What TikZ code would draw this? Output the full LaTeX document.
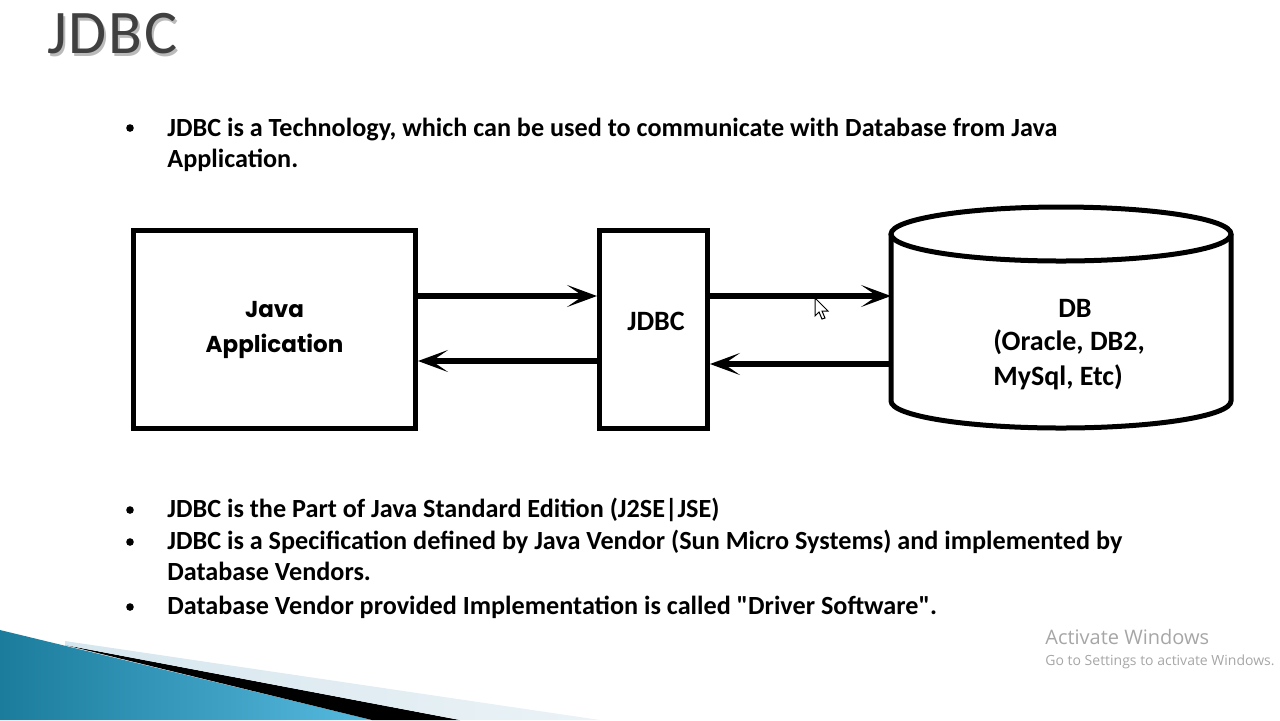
\documentclass[tikz,border=0pt]{standalone}
\usepackage{fontspec}
\setmainfont{Carlito}[Ligatures=TeXOff]
\newfontfamily\geofont{Poppins}
\newfontfamily\winfont{Open Sans}
\usetikzlibrary{arrows.meta}
\definecolor{titlegray}{HTML}{404040}
\definecolor{shadowgray}{HTML}{BBBBBB}
\definecolor{tealdark}{HTML}{1B7C9C}
\definecolor{teallight}{HTML}{56BADF}
\definecolor{bandgray}{HTML}{D6E6EE}
\definecolor{wmgray}{HTML}{A6A6A6}

\begin{document}
\begin{tikzpicture}[x=0.5pt, y=-0.5pt,
    box/.style={rectangle, draw, line width=2.5pt, inner sep=0pt},
    arrow/.style={-{Stealth[length=15pt, width=11pt, inset=8pt]}, line width=3pt},
    bul/.style={circle, fill, inner sep=0pt, minimum size=3.8pt},
    txt/.style={anchor=base west, inner sep=0pt, font=\fontsize{13.1}{15.75}\selectfont\bfseries},
    lbl/.style={inner sep=0pt, font=\fontsize{14}{17.5}\selectfont\bfseries}
]
\useasboundingbox (0,0) rectangle (1280,720);

% title with its shadow
\node[anchor=base west, inner sep=0pt, font=\fontsize{31}{36}\selectfont\addfontfeature{LetterSpace=3}, text=shadowgray] (titleshadow) at (49,56) {JDBC};
\node[anchor=base west, inner sep=0pt, font=\fontsize{31}{36}\selectfont\addfontfeature{LetterSpace=3}, text=titlegray] (title) at (47,53) {JDBC};

% first bullet
\node[bul] (b1) at (130,128) {};
\node[txt] (t1a) at (167,136) {JDBC is a Technology, which can be used to communicate with Database from Java};
\node[txt] (t1b) at (167,167) {Application.};

% Java application and JDBC boxes
\node[box, minimum width=141pt, minimum height=99pt, align=center,
      font=\geofont\bfseries\fontsize{11.5}{17.5}\selectfont] (app) at (274.5,329.5) {Java\\Application};
\node[box, minimum width=54pt, minimum height=99pt] (jdbc) at (653.5,329.5) {};
\node[lbl] (jdbclbl) at (656,321) {JDBC};

% database cylinder
\draw[line width=2.5pt] (891,234) -- (891,401) arc(180:0:170 and 27) -- (1231,234);
\draw[line width=2.5pt] (1061,234) ellipse (170 and 27);
\coordinate (dbw) at (891,318);
\node[lbl] (dbname) at (1075,308) {DB};
\node[lbl, anchor=west] (dblist1) at (993,342) {(Oracle, DB2,};
\node[lbl, anchor=west] (dblist2) at (993,377) {MySql, Etc)};

% Arrows
\draw[arrow] ([yshift=16.75pt]app.east) -- ([yshift=16.75pt]jdbc.west);
\draw[arrow] ([yshift=-15.75pt]jdbc.west) -- ([yshift=-15.75pt]app.east);
\draw[arrow] ([yshift=16.75pt]jdbc.east) -- ([yshift=16.75pt]jdbc.east -| dbw);
\draw[arrow] ([yshift=-17.25pt]jdbc.east -| dbw) -- ([yshift=-17.25pt]jdbc.east);

% mouse pointer
\filldraw[fill=white, draw=black, line width=0.5pt] (815,298) -- (815,316) -- (819,312) -- (822,319) -- (825,318) -- (822,311) -- (828,311) -- cycle;

% lower bullets
\node[bul] (b2) at (130,510) {};
\node[txt] (t2) at (167,517) {JDBC is the Part of Java Standard Edition (J2SE|JSE)};
\node[bul] (b3) at (130,542) {};
\node[txt] (t3a) at (167,549) {JDBC is a Specification defined by Java Vendor (Sun Micro Systems) and implemented by};
\node[txt] (t3b) at (167,580) {Database Vendors.};
\node[bul] (b4) at (130,607) {};
\node[txt] (t4) at (167,614) {Database Vendor provided Implementation is called "Driver Software".};

% corner decoration
\shade[left color=tealdark, right color=teallight] (0,630) -- (372,720) -- (0,720) -- cycle;
\fill[black] (65,645) -- (460,720) -- (372,720) -- cycle;
\shade[left color=bandgray, right color=bandgray!50] (65,641) -- (600,720) -- (460,720) -- (65,645) -- cycle;

% watermark
\node[anchor=base west, inner sep=0pt, font=\winfont\fontsize{10}{12}\selectfont, text=wmgray] (act1) at (1045,644) {Activate Windows};
\node[anchor=base west, inner sep=0pt, font=\winfont\fontsize{7}{9}\selectfont, text=wmgray] (act2) at (1045,665) {Go to Settings to activate Windows.};

\end{tikzpicture}
\end{document}
